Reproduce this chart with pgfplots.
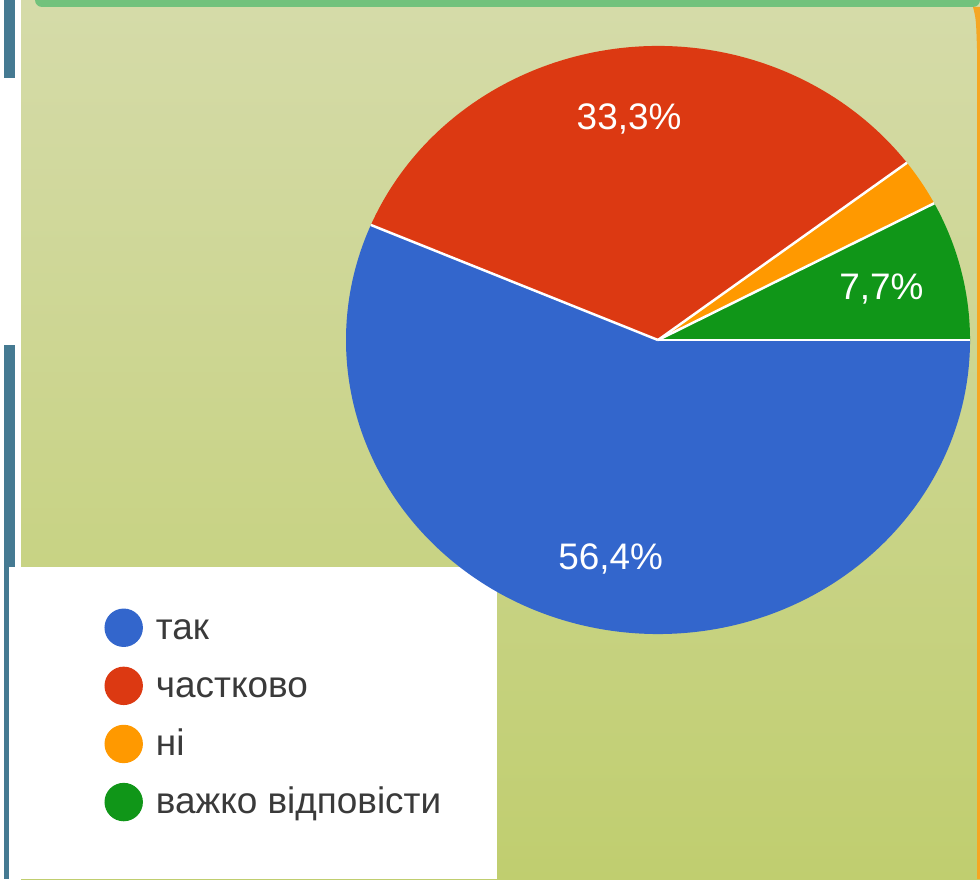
\documentclass[border=0pt]{standalone}
\usepackage{fontspec}
\setmainfont{Liberation Sans}
\usepackage{pgfplots}
\pgfplotsset{compat=1.18}

\definecolor{gblue}{HTML}{3366CC}
\definecolor{gred}{HTML}{DC3912}
\definecolor{gorange}{HTML}{FF9900}
\definecolor{ggreen}{HTML}{109618}
\definecolor{bgtop}{HTML}{D5DBA9}
\definecolor{bgbot}{HTML}{C0CE6F}
\definecolor{barg}{HTML}{72C27C}
\definecolor{sideteal}{HTML}{457A92}
\definecolor{edgeor}{HTML}{F5A623}
\definecolor{legtext}{HTML}{3A3A3A}

\newcommand{\lstrut}{\rule[-0.85mm]{0pt}{3.7mm}}

\begin{document}
\begin{tikzpicture}
% shares in percent, clockwise from 3 o'clock
\def\pA{56.4}\def\pB{33.3}\def\pC{2.6}\def\pD{7.7}
\pgfmathsetmacro\aA{-3.6*\pA}
\pgfmathsetmacro\aB{\aA-3.6*\pB}
\pgfmathsetmacro\aC{\aB-3.6*\pC}
\pgfmathsetmacro\aD{\aC-3.6*\pD}
\pgfmathsetmacro\mA{\aA/2}
\pgfmathsetmacro\mB{(\aA+\aB)/2}
\pgfmathsetmacro\mD{(\aC+\aD)/2}
\begin{axis}[
  width=9.8cm, height=8.79cm, scale only axis,
  xmin=0, xmax=980, ymin=0, ymax=879,
  hide axis, clip=false,
  legend style={at={(axis cs:104.5,270.5)}, anchor=north west,
    draw=none, fill=none, inner sep=0pt, outer sep=0pt,
    row sep=1.97mm, font=\fontsize{10.5}{12}\selectfont, text=legtext,
    nodes={inner sep=0pt, outer sep=0pt},
    /tikz/every odd column/.append style={column sep=1.3mm}},
  legend cell align=left,
  legend image code/.code={\fill (0.185cm,0cm) circle[radius=0.185cm];}
]
% page background
\fill[white] (axis cs:0,0) rectangle (axis cs:980,879);
\fill[sideteal] (axis cs:4,801) rectangle (axis cs:15,879);
\fill[sideteal] (axis cs:4,0) rectangle (axis cs:15,534);
\fill[top color=bgtop, bottom color=bgbot] (axis cs:21,0) rectangle (axis cs:980,879);
\fill[barg] (axis cs:35,879) [rounded corners=0.7mm] -- (axis cs:35,872)
  -- (axis cs:980,872) [sharp corners] -- (axis cs:980,879) -- cycle;
\fill[edgeor] (axis cs:980,872) -- (axis cs:973,872)
  .. controls (axis cs:976,860) .. (axis cs:977,830) -- (axis cs:977,0)
  -- (axis cs:980,0) -- cycle;
\fill[white] (axis cs:9,0) rectangle (axis cs:497,312);
% pie
\fill[gblue] (axis cs:658,539) -- ++(0:3.12cm and 2.94cm)
  arc[start angle=0, end angle=\aA, x radius=3.12cm, y radius=2.94cm] -- cycle;
\fill[gred] (axis cs:658,539) -- ++(\aA:3.12cm and 2.94cm)
  arc[start angle=\aA, end angle=\aB, x radius=3.12cm, y radius=2.94cm] -- cycle;
\fill[gorange] (axis cs:658,539) -- ++(\aB:3.12cm and 2.94cm)
  arc[start angle=\aB, end angle=\aC, x radius=3.12cm, y radius=2.94cm] -- cycle;
\fill[ggreen] (axis cs:658,539) -- ++(\aC:3.12cm and 2.94cm)
  arc[start angle=\aC, end angle=\aD, x radius=3.12cm, y radius=2.94cm] -- cycle;
\draw[white, line width=0.25mm] (axis cs:658,539) -- ++(0:3.12cm and 2.94cm);
\draw[white, line width=0.25mm] (axis cs:658,539) -- ++(\aA:3.12cm and 2.94cm);
\draw[white, line width=0.25mm] (axis cs:658,539) -- ++(\aB:3.12cm and 2.94cm);
\draw[white, line width=0.25mm] (axis cs:658,539) -- ++(\aC:3.12cm and 2.94cm);
% slice labels
\path (axis cs:658,539) ++(\mA:2.37cm and 2.23cm)
  node[text=white, font=\fontsize{10.5}{12}\selectfont] {56,4\%};
\path (axis cs:658,539) ++(\mB:2.37cm and 2.23cm)
  node[text=white, font=\fontsize{10.5}{12}\selectfont] {33,3\%};
\path (axis cs:658,539) ++(\mD:2.30cm and 2.12cm)
  node[text=white, font=\fontsize{10.5}{12}\selectfont] {7,7\%};
% legend
\addlegendimage{gblue}\addlegendentry{\lstrut так}
\addlegendimage{gred}\addlegendentry{\lstrut частково}
\addlegendimage{gorange}\addlegendentry{\lstrut ні}
\addlegendimage{ggreen}\addlegendentry{\lstrut важко відповісти}
\end{axis}
\end{tikzpicture}
\end{document}
